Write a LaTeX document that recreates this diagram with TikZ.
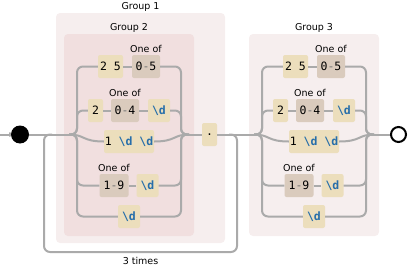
\documentclass[tikz,border=0pt]{standalone}
\usepackage{fontspec}
\setmainfont{DejaVu Sans}
\setmonofont{DejaVu Sans Mono}
\usepackage{xcolor}
\usepackage{tikz}
\usetikzlibrary{arrows.meta, positioning}

\definecolor{railgray}{RGB}{170,170,170}
\definecolor{litfill}{RGB}{236,222,188}
\definecolor{rangefill}{RGB}{218,203,189}
\definecolor{outerbg}{RGB}{246,238,238}
\definecolor{innerbg}{RGB}{241,223,223}
\definecolor{escblue}{RGB}{38,110,170}

\newcommand{\esc}{\textcolor{escblue}{\bfseries\textbackslash d}}
\newcommand{\digitspan}[2]{#1\textcolor{black!55}{-}#2}

% one "octet" alternation: #1 name prefix, #2 group title, #3 background
\newcommand{\octetalt}[3]{%
    \node[groupbox, fill=#3, minimum width=130pt, minimum height=202pt] (#1) at (129,135) {};
    \node[lbl, above=1.3pt of #1] (#1-title) {#2};

    \coordinate (#1-in)  at (69,134.5);
    \coordinate (#1-l)   at (77,134.5);
    \coordinate (#1-r)   at (181,134.5);
    \coordinate (#1-out) at (189,134.5);

    \node[litbox, minimum width=25pt] (#1-25) at (110.5,66.5) {2 5};
    \node[rangebox, minimum width=28pt] (#1-05) at (146,66.5) {\digitspan05};
    \node[lbl, above=2.3pt of #1-05] (#1-05l) {One of};

    \node[litbox, minimum width=15pt] (#1-2) at (95.5,110.5) {2};
    \node[rangebox, minimum width=28pt] (#1-04) at (125,110.5) {\digitspan04};
    \node[lbl, above=2.3pt of #1-04] (#1-04l) {One of};
    \node[litbox, minimum width=22pt] (#1-d1) at (159,110.5) {\esc};

    \node[litbox, minimum width=50pt] (#1-1dd) at (129,141.5) {1 \esc{} \esc};

    \node[rangebox, minimum width=29pt] (#1-19) at (114,185.5) {\digitspan19};
    \node[lbl, above=2.3pt of #1-19] (#1-19l) {One of};
    \node[litbox, minimum width=22pt] (#1-d2) at (147.5,185.5) {\esc};

    \node[litbox, minimum width=22pt] (#1-d3) at (129,216.5) {\esc};

    \draw[rail] (#1-in) -- (#1-l) |- (#1-25.west);
    \draw[rail] (#1-25) -- (#1-05);
    \draw[rail] (#1-05.east) -| (#1-r) -- (#1-out);

    \draw[rail] (#1-in) -- (#1-l) |- (#1-2.west);
    \draw[rail] (#1-2) -- (#1-04) -- (#1-d1);
    \draw[rail] (#1-d1.east) -| (#1-r) -- (#1-out);

    \draw[rail] (#1-in) .. controls +(16,0) and +(-22,0) .. (#1-1dd.west);
    \draw[rail] (#1-1dd.east) .. controls +(22,0) and +(-16,0) .. (#1-out);

    \draw[rail] (#1-in) -- (#1-l) |- (#1-19.west);
    \draw[rail] (#1-19) -- (#1-d2);
    \draw[rail] (#1-d2.east) -| (#1-r) -- (#1-out);

    \draw[rail] (#1-in) -- (#1-l) |- (#1-d3.west);
    \draw[rail] (#1-d3.east) -| (#1-r) -- (#1-out);
}

\begin{document}
\begin{tikzpicture}[
        x=1pt, y=-1pt,
        lbl/.style={inner sep=0pt, font=\fontsize{9.5}{11}\selectfont},
        groupbox/.style={rectangle, rounded corners=4pt, draw=none, inner sep=0pt},
        litbox/.style={
            rectangle, rounded corners=2pt,
            draw=none, fill=litfill,
            inner sep=0pt, minimum height=23pt,
            font=\fontsize{11.5}{13}\ttfamily
        },
        rangebox/.style={litbox, fill=rangefill},
        rail/.style={line width=2pt, railgray, rounded corners=6pt},
        startdot/.style={circle, fill=black, inner sep=0pt, minimum size=18pt},
        enddot/.style={circle, draw=black, line width=2pt, fill=white, inner sep=0pt, minimum size=15pt}
    ]
    \useasboundingbox (0,0) rectangle (408,268);

    \node[groupbox, fill=outerbg, minimum width=169pt, minimum height=230pt] (grp1) at (140.5,128) {};
    \node[lbl, above=1.3pt of grp1] (grp1-title) {Group 1};

    \octetalt{grp2}{Group 2}{innerbg}
    \begin{scope}[xshift=185pt]
        \octetalt{grp3}{Group 3}{outerbg}
    \end{scope}

    \coordinate (entry) at (0,134.5);
    \node[startdot] (start) at (20,134.5) {};
    \node[litbox, minimum width=15pt] (dot) at (209.5,134.5) {.};
    \node[enddot] (finish) at (398.5,134.5) {};

    % repeat loop
    \coordinate (loopsplit) at (229,134.5);
    \coordinate (loopr) at (237,134.5);
    \coordinate (loopl) at (44,134.5);
    \coordinate (loopjoin) at (52,134.5);
    \draw[rail] (loopsplit) -- (loopr) -- ++(0,117.5) -| (loopl) -- (loopjoin);
    \node[lbl, anchor=base] (reps) at (140.5,264.5) {3 times};

    \draw[rail, -{To[length=2pt,width=5pt]}] (entry) -- (start);
    \draw[rail] (start) -- (grp2-in);
    \draw[rail] (grp2-out) -- (dot) -- (grp3-in);
    \draw[rail] (grp3-out) -- (finish);

\end{tikzpicture}
\end{document}
